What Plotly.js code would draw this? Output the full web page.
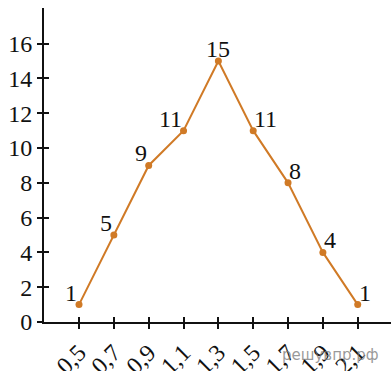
<!DOCTYPE html>
<html><head><meta charset="utf-8">
<script src="https://cdn.plot.ly/plotly-3.0.1.min.js"></script>
<style>html,body{margin:0;padding:0;background:#fff;}#c{width:391px;height:371px;}</style>
</head><body><div id="c"></div>
<script>
const xValues = [0.5, 0.7, 0.9, 1.1, 1.3, 1.5, 1.7, 1.9, 2.1];
const xTickLabels = ['0,5','0,7','0,9','1,1','1,3','1,5','1,7','1,9','2,1'];
const yValues = [1, 5, 9, 11, 15, 11, 8, 4, 1];
const yTickVals = [0, 2, 4, 6, 8, 10, 12, 14, 16];
const labelSides = ['left','left','left','left','center','right','right','right','right'];

const fontFamily = 'Liberation Serif';
const lineColor = '#D07A26';
const textFont = {family: fontFamily, size: 24, color: '#111111'};

const traces = [
  {
    x: xValues, y: yValues, type: 'scatter', mode: 'lines+markers',
    line: {color: lineColor, width: 2},
    marker: {color: lineColor, size: 7},
    cliponaxis: false, hoverinfo: 'none', xaxis: 'x', yaxis: 'y'
  },
  {
    x: xValues, y: yValues, type: 'scatter', mode: 'markers',
    marker: {opacity: 0}, hoverinfo: 'none', xaxis: 'x2', yaxis: 'y2'
  }
];

const axisCommon = {
  showgrid: false, zeroline: false, showline: true, linecolor: '#111111', linewidth: 2,
  tickcolor: '#111111', tickwidth: 2, ticklen: 5, fixedrange: true
};

const valueLabels = xValues.map((x, i) => ({
  x: x, y: yValues[i], xref: 'x', yref: 'y', text: String(yValues[i]), showarrow: false,
  xanchor: labelSides[i] === 'left' ? 'right' : (labelSides[i] === 'right' ? 'left' : 'center'),
  yanchor: 'bottom',
  xshift: labelSides[i] === 'left' ? -1 : 0,
  yshift: -2, borderpad: 0,
  font: textFont
}));

const layout = {
  width: 391, height: 371,
  margin: {l: 44, r: 0, t: 8, b: 49, pad: 0},
  paper_bgcolor: '#ffffff', plot_bgcolor: '#ffffff',
  showlegend: false,
  font: textFont,
  xaxis: Object.assign({}, axisCommon, {
    range: [0.299, 2.291], tickmode: 'array', tickvals: xValues, ticktext: xTickLabels,
    ticks: 'outside', tickangle: -45, tickfont: textFont
  }),
  yaxis: Object.assign({}, axisCommon, {
    range: [0, 18.05], tickmode: 'array', tickvals: yTickVals,
    ticks: 'outside', tickfont: textFont
  }),
  xaxis2: Object.assign({}, axisCommon, {
    overlaying: 'x', matches: 'x', tickmode: 'array', tickvals: xValues,
    ticks: 'inside', showticklabels: false, showline: false
  }),
  yaxis2: Object.assign({}, axisCommon, {
    overlaying: 'y', matches: 'y', tickmode: 'array', tickvals: yTickVals,
    ticks: 'inside', showticklabels: false, showline: false
  }),
  annotations: valueLabels.concat([{
    text: 'решувпр.рф', xref: 'paper', yref: 'paper', x: 1, y: 0,
    xanchor: 'right', yanchor: 'top', xshift: -10, yshift: -22, showarrow: false,
    font: {family: 'DejaVu Sans', size: 15, color: 'rgba(120,120,120,0.75)'}
  }])
};

Plotly.newPlot('c', traces, layout, {staticPlot: true, displayModeBar: false});
</script></body></html>
